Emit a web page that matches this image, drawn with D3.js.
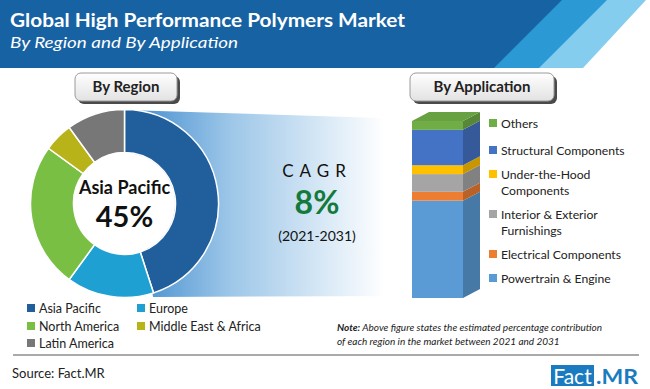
<!DOCTYPE html>
<html>
<head>
<meta charset="utf-8">
<script src="https://cdn.jsdelivr.net/npm/d3@7"></script>
<style>
  body { margin: 0; background: #fff; }
  svg { display: block; font-family: Lato, "Liberation Sans", sans-serif; }
</style>
</head>
<body>
<svg id="chart" width="650" height="389"></svg>
<script>
// region shares (%)
var regions = ["Asia Pacific", "Europe", "North America", "Middle East & Africa", "Latin America"]
var regionShare = [45, 15, 25, 5, 10]
var regionColors = ["#215e9c", "#1fa0d2", "#79bf44", "#b7b319", "#777777"]

// application shares (%), bottom to top of the stacked bar
var apps = ["Powertrain & Engine", "Electrical Components", "Interior & Exterior Furnishings",
            "Under-the-Hood Components", "Structural Components", "Others"]
var appShare = [55, 5, 10, 5, 20, 5]
var appColors = ["#5b9bd5", "#ed7d31", "#a5a5a5", "#ffc000", "#4472c4", "#70ad47"]

// legend labels for applications, top to bottom (wrapped as in the picture)
var appLegend = [["Others"], ["Structural Components"], ["Under-the-Hood", "Components"],
                 ["Interior & Exterior", "Furnishings"], ["Electrical Components"], ["Powertrain & Engine"]]
var appLegendColor = ["#70ad47", "#4472c4", "#ffc000", "#a5a5a5", "#ed7d31", "#5b9bd5"]

var svg = d3.select("#chart")
var defs = svg.append("defs")

// ---------- header ----------
svg.append("rect").attr("x", 0).attr("y", 0).attr("width", 650).attr("height", 68).attr("fill", "#1762a3")
svg.append("polygon").attr("points", "562,0 650,0 650,68 494,68").attr("fill", "#2b9ad4")
svg.append("polygon").attr("points", "607,0 650,0 650,68 539,68").attr("fill", "#84cdef")
svg.append("polygon").attr("points", "646,0 650,0 650,68 583,68").attr("fill", "#fff")

svg.append("text").attr("x", 10).attr("y", 27)
  .attr("fill", "#fff").attr("font-size", 19).attr("font-weight", 700)
  .attr("textLength", 395).attr("lengthAdjust", "spacingAndGlyphs")
  .text("Global High Performance Polymers Market")
svg.append("text").attr("x", 10).attr("y", 48)
  .attr("fill", "#fff").attr("font-size", 16).attr("font-style", "italic")
  .attr("textLength", 228).attr("lengthAdjust", "spacingAndGlyphs")
  .text("By Region and By Application")

// ---------- gradient band joining donut and bar ----------
var grad = defs.append("linearGradient").attr("id", "band")
  .attr("gradientUnits", "userSpaceOnUse").attr("x1", 125).attr("x2", 385).attr("y1", 0).attr("y2", 0)
grad.append("stop").attr("offset", 0).attr("stop-color", "#3b88cc")
grad.append("stop").attr("offset", 0.4).attr("stop-color", "#9cc6e8")
grad.append("stop").attr("offset", 1).attr("stop-color", "#ffffff")
svg.append("polygon").attr("points", "125,110 412,119 412,296 153,297").attr("fill", "url(#band)")

// ---------- buttons ----------
var btnGrad = defs.append("linearGradient").attr("id", "btn").attr("x1", 0).attr("x2", 0).attr("y1", 0).attr("y2", 1)
btnGrad.append("stop").attr("offset", 0).attr("stop-color", "#ffffff")
btnGrad.append("stop").attr("offset", 1).attr("stop-color", "#e2e2e2")

function button(x, w, label) {
  svg.append("rect").attr("x", x + 3).attr("y", 76).attr("width", w).attr("height", 28)
    .attr("rx", 6).attr("fill", "#4a4a4a")
  svg.append("rect").attr("x", x).attr("y", 73).attr("width", w).attr("height", 28)
    .attr("rx", 6).attr("fill", "url(#btn)").attr("stroke", "#9a9a9a").attr("stroke-width", 1)
  svg.append("text").attr("x", x + w / 2).attr("y", 92).attr("text-anchor", "middle")
    .attr("font-size", 15).attr("font-weight", 700).attr("fill", "#222").text(label)
}
button(75, 102, "By Region")
button(410, 144, "By Application")

// ---------- donut ----------
var cx = 124.5, cy = 203.5
var pie = d3.pie().sort(null).value(function (d) { return d })
var arc = d3.arc().innerRadius(51).outerRadius(94)
var donut = svg.append("g").attr("transform", "translate(" + cx + "," + cy + ")")
donut.selectAll("path").data(pie(regionShare)).enter().append("path")
  .attr("d", arc)
  .attr("fill", function (d, i) { return regionColors[i] })
  .attr("stroke", "#fff").attr("stroke-width", 1.5)
donut.append("circle").attr("r", 50.5).attr("fill", "#fff")
donut.append("text").attr("y", -10).attr("text-anchor", "middle")
  .attr("font-size", 18).attr("font-weight", 700).attr("fill", "#111").text(regions[0])
donut.append("text").attr("y", 23).attr("text-anchor", "middle")
  .attr("font-size", 29).attr("font-weight", 700).attr("fill", "#111").text(regionShare[0] + "%")

// ---------- CAGR ----------
svg.append("text").attr("x", 317).attr("y", 177).attr("text-anchor", "middle")
  .attr("font-size", 17).attr("letter-spacing", 6).attr("fill", "#111").text("CAGR")
svg.append("text").attr("x", 317).attr("y", 214).attr("text-anchor", "middle")
  .attr("font-size", 32).attr("font-weight", 700).attr("fill", "#137a3c").text("8%")
svg.append("text").attr("x", 317).attr("y", 241).attr("text-anchor", "middle")
  .attr("font-size", 14).attr("fill", "#111").text("(2021-2031)")

// ---------- 3D stacked bar ----------
var y = d3.scaleLinear().domain([0, 100]).range([298, 121])
var bx = 412, bw = 51, dx = 17, dy = -9
var cum = 0
var segs = appShare.map(function (v, i) {
  var s = { y0: cum, y1: cum + v, color: appColors[i] }
  cum += v
  return s
})
var bar = svg.append("g")
segs.forEach(function (s) {
  var top = y(s.y1), bot = y(s.y0)
  bar.append("rect").attr("x", bx).attr("y", top).attr("width", bw).attr("height", bot - top)
    .attr("fill", s.color)
  bar.append("polygon")
    .attr("points", [[bx + bw, top], [bx + bw + dx, top + dy], [bx + bw + dx, bot + dy], [bx + bw, bot]].join(" "))
    .attr("fill", d3.color(s.color).darker(0.7))
})
var last = segs[segs.length - 1]
bar.append("polygon")
  .attr("points", [[bx, y(100)], [bx + dx, y(100) + dy], [bx + bw + dx, y(100) + dy], [bx + bw, y(100)]].join(" "))
  .attr("fill", d3.color(last.color).darker(0.2))

// application legend
var appRows = [123, 150, 174, 214, 254, 278]
appLegend.forEach(function (lines, i) {
  svg.append("rect").attr("x", 489).attr("y", appRows[i] - 4).attr("width", 8).attr("height", 8)
    .attr("fill", appLegendColor[i])
  lines.forEach(function (t, j) {
    svg.append("text").attr("x", 501).attr("y", appRows[i] + 4.5 + j * 16.5)
      .attr("font-size", 12.2).attr("fill", "#222").text(t)
  })
})

// region legend
var legPos = [[27, 308], [137, 308], [27, 326], [137, 326], [27, 343]]
regions.forEach(function (r, i) {
  var p = legPos[i]
  svg.append("rect").attr("x", p[0]).attr("y", p[1] - 4).attr("width", 8).attr("height", 8)
    .attr("fill", regionColors[i])
  svg.append("text").attr("x", p[0] + 12).attr("y", p[1] + 4.5)
    .attr("font-size", 12.5).attr("fill", "#222").text(r)
})

// ---------- footer ----------
svg.append("line").attr("x1", 13).attr("x2", 639).attr("y1", 355).attr("y2", 355)
  .attr("stroke", "#555").attr("stroke-width", 1)

var note = svg.append("text").attr("x", 337).attr("y", 331).attr("font-size", 10)
  .attr("font-style", "italic").attr("fill", "#222")
note.append("tspan").attr("font-weight", 700).text("Note:")
note.append("tspan").text(" Above figure states the estimated percentage contribution")
svg.append("text").attr("x", 337).attr("y", 345).attr("font-size", 10)
  .attr("font-style", "italic").attr("fill", "#222")
  .text("of each region in the market between 2021 and 2031")

svg.append("text").attr("x", 12).attr("y", 378).attr("font-size", 13).attr("fill", "#222")
  .text("Source: Fact.MR")

svg.append("rect").attr("x", 551).attr("y", 365).attr("width", 43).attr("height", 21).attr("fill", "#1b7bc0")
svg.append("text").attr("x", 572.5).attr("y", 383.5).attr("text-anchor", "middle")
  .attr("font-size", 21).attr("fill", "#fff").text("Fact")
svg.append("text").attr("x", 596).attr("y", 383.5)
  .attr("font-size", 21).attr("font-weight", 700).attr("fill", "#1b7bc0")
  .attr("textLength", 42).attr("lengthAdjust", "spacingAndGlyphs").text(".MR")
</script>
</body>
</html>
